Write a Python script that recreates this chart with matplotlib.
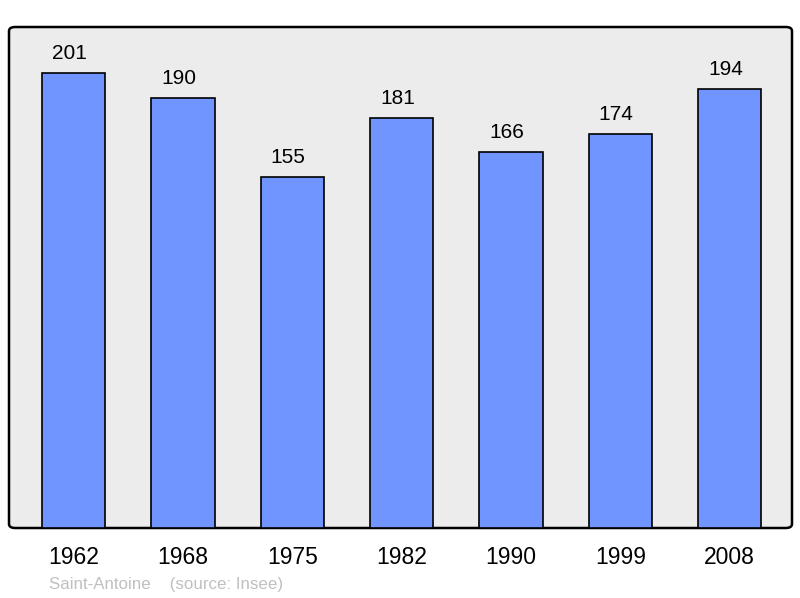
import matplotlib.pyplot as plt
from matplotlib.patches import FancyBboxPatch

# Population data (Insee)
years = ['1962', '1968', '1975', '1982', '1990', '1999', '2008']
population = [201, 190, 155, 181, 166, 174, 194]
commune = 'Saint-Antoine'

plt.rcParams['font.family'] = ['Liberation Sans', 'DejaVu Sans']

fig = plt.figure(figsize=(8, 5.98), dpi=100)
ax = fig.add_axes([9/800, 1 - 528/598, 783/800, 501/598])
ax.set_facecolor('none')

# background frame with rounded corners
frame = FancyBboxPatch((0, 0), 1, 1, boxstyle='round,pad=0,rounding_size=0.008',
                       transform=ax.transAxes, facecolor='#ececec',
                       edgecolor='black', linewidth=1.8, clip_on=False, zorder=0)
ax.add_patch(frame)

x = range(len(years))
ax.bar(x, population, width=0.58, color='#7095ff', edgecolor='black',
       linewidth=1.2, zorder=2)

# value labels, slightly left of bar centre like the original
for xi, v in zip(x, population):
    ax.annotate(str(v), (xi, v), xytext=(-3, 10), textcoords='offset points',
                ha='center', va='baseline', fontsize=15)

ax.set_xlim(-0.59, 6.57)
ax.set_ylim(0, 221.3)
ax.set_xticks(list(x))
ax.set_xticklabels(years, fontsize=16.5)
ax.tick_params(axis='x', length=0, pad=13)
ax.set_yticks([])
for s in ax.spines.values():
    s.set_visible(False)

fig.text(49/800, 1 - 584/598, commune + '    (source: Insee)', color='#c0c0c0',
         fontsize=12.2, va='center', ha='left')

fig.savefig('out.png', dpi=100)
